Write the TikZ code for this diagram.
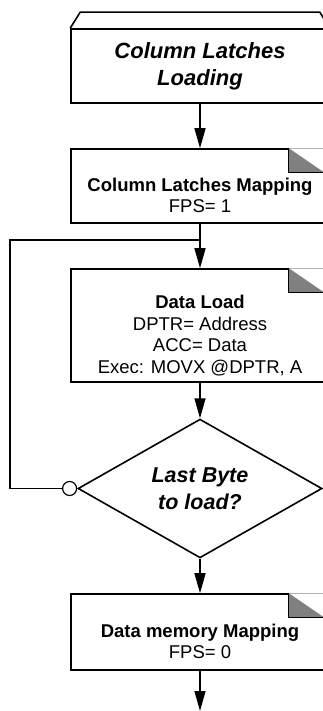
\documentclass[tikz,border=0pt]{standalone}
\usepackage{fontspec}
\setmainfont{Liberation Sans}
\usetikzlibrary{shapes.geometric,arrows.meta}

\begin{document}
\begin{tikzpicture}[x=1pt,y=-1pt,
    flow/.style ={line width=1.4pt, -{Triangle[length=20pt,width=11pt]}},
    process/.style ={rectangle, draw, line width=1.6pt, minimum width=258pt, inner sep=0pt},
    proctext/.style ={align=center, inner sep=0pt, font=\fontsize{18.5}{21.6}\selectfont},
    decision/.style ={diamond, draw, line width=1.6pt, minimum width=244pt, minimum height=121pt,
      inner sep=0pt, align=center, font=\fontsize{21.5}{27}\selectfont\bfseries\itshape}]
   \useasboundingbox (0,0) rectangle (323,711);
   \clip (0,0) rectangle (323,711);
   % boxes
   \node[process, minimum height=74pt, align=center, font=\fontsize{22}{27}\selectfont\bfseries\itshape] (load) at (200,66) {Column Latches\\Loading};
   \draw[line width=1.6pt] (load.north west) -- ++(10,-16) -- ([xshift=-10pt,yshift=16pt]load.north east) -- (load.north east);
   \node[process, minimum height=74pt] (colmap) at (200,186) {};
   \node[process, minimum height=113pt] (dataload) at (200,325.5) {};
   \node[decision] (lastbyte) at (200,488.5) {Last Byte\\to load?};
   \node[circle, draw, fill=white, line width=1.2pt, minimum size=14pt, inner sep=0pt, anchor=east] (back) at (lastbyte.west) {};
   \node[process, minimum height=76pt] (datamap) at (200,632) {};
   % folded corners
   \foreach \n in {colmap,dataload,datamap} {
     \fill[white] ([xshift=-41pt,yshift=1pt]\n.north east) rectangle ([xshift=2pt,yshift=-24pt]\n.north east);
     \draw[black!30, line width=0.6pt] ([xshift=-41pt]\n.north east) -- (\n.north east);
     \fill[black!50] ([xshift=-41pt]\n.north east) -- ([xshift=-41pt,yshift=-24pt]\n.north east)
       -- ([xshift=-6pt,yshift=-24pt]\n.north east) -- cycle;
     \draw[line width=1.2pt] ([xshift=-41pt]\n.north east) -- ([xshift=-41pt,yshift=-24pt]\n.north east)
       -- ([xshift=2pt,yshift=-24pt]\n.north east);
   }
   % box texts
   \node[proctext] (colmaptext) at ([yshift=-9.5pt]colmap.center) {\textbf{Column Latches Mapping}\\FPS= 1};
   \node[proctext] (dataloadtext) at ([yshift=-10pt]dataload.center) {\textbf{Data Load}\\DPTR= Address\\ACC= Data\\Exec: MOVX @DPTR, A};
   \node[proctext] (datamaptext) at ([yshift=-9.5pt]datamap.center) {\textbf{Data memory Mapping}\\FPS= 0};
   % connectors
   \coordinate (split) at (200,240);
   \coordinate (corner) at (10,240);
   \coordinate (exit) at (200,711);
   \draw[flow] (load) -- (colmap);
   \draw[flow] (colmap) -- (dataload);
   \draw[flow] (dataload) -- (lastbyte);
   \draw[flow] (lastbyte) -- (datamap);
   \draw[flow] (datamap) -- (exit);
   \draw[line width=1.4pt] (back.west) -| (corner) -- (split);
\end{tikzpicture}
\end{document}
